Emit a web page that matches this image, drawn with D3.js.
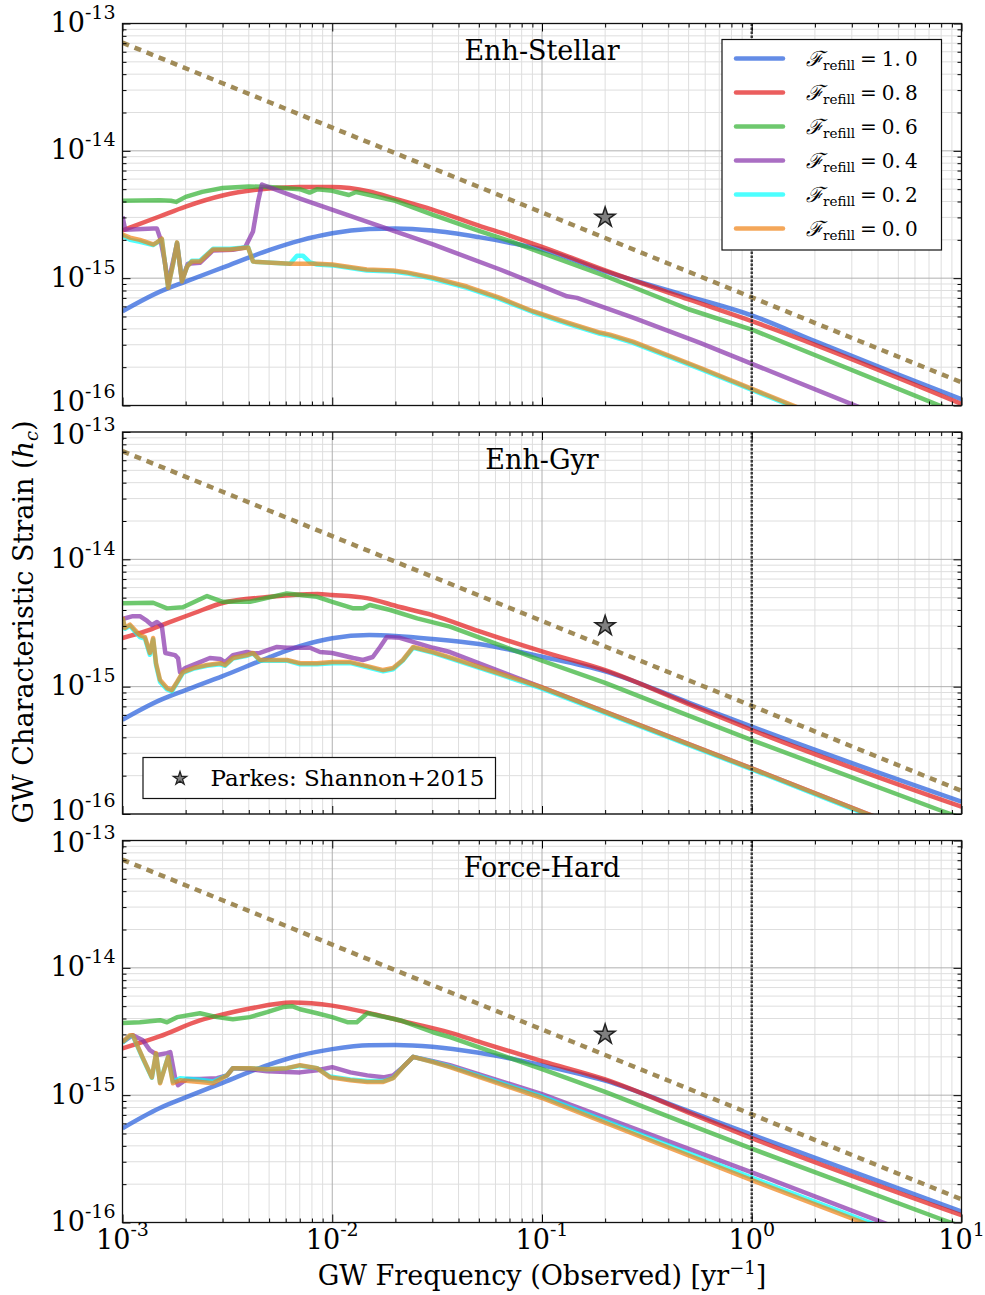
<!DOCTYPE html>
<html>
<head>
<meta charset="utf-8">
<script src="https://cdn.jsdelivr.net/npm/d3@7"></script>
<style>
  body { margin: 0; background: #fff; }
  svg text { font-family: "DejaVu Serif", serif; fill: #000; }
</style>
</head>
<body>
<div id="chart"></div>
<script>
// ---- data ----
var xTicks = [1e-3, 1e-2, 1e-1, 1, 10];
var xTickExp = ["-3", "-2", "-1", "0", "1"];
var yTicks = [1e-16, 1e-15, 1e-14, 1e-13];
var yTickExp = ["-16", "-15", "-14", "-13"];
var panelTitles = ["Enh-Stellar", "Enh-Gyr", "Force-Hard"];
var refillLabels = ["1.0", "0.8", "0.6", "0.4", "0.2", "0.0"];
var refillColors = ["rgb(34,91,219)", "rgb(226,26,26)", "rgb(48,176,48)", "rgb(134,48,169)", "rgb(0,255,255)", "rgb(240,130,20)"];

// power-law fit (dotted) and the Parkes limit
var powerLaw = [[1e-3, 7.07e-14], [1e-2, 1.52e-14], [0.1, 3.28e-15], [1, 7.07e-16], [10, 1.52e-16]];
var shannon = [[0.2, 3.0e-15]];
var shannonLabel = "Parkes: Shannon+2015";

// Enh-Stellar
var stellarBlue = [[1e-3,5.5e-16],[1.5e-3,7.8e-16],[2e-3,9.4e-16],[3e-3,1.21e-15],[5e-3,1.66e-15],[7e-3,1.97e-15],[1e-2,2.25e-15],[1.5e-2,2.43e-15],[2e-2,2.46e-15],[3e-2,2.37e-15],[5e-2,2.1e-15],[7e-2,1.9e-15],[0.1,1.68e-15],[0.2,1.13e-15],[0.5,7.2e-16],[1,5.1e-16],[2,3.2e-16],[5,1.75e-16],[10,1.12e-16]];
var stellarRed = [[1e-3,2.37e-15],[1.5e-3,3.05e-15],[2e-3,3.65e-15],[3e-3,4.46e-15],[5e-3,5.06e-15],[7e-3,5.2e-15],[1e-2,5.2e-15],[1.5e-2,4.8e-15],[2e-2,4.2e-15],[3e-2,3.46e-15],[5e-2,2.59e-15],[7e-2,2.16e-15],[0.1,1.76e-15],[0.2,1.15e-15],[0.5,6.8e-16],[1,4.6e-16],[10,1.03e-16]];
var stellarGreen = [[1e-3,4.05e-15],[1.5e-3,4.1e-15],[1.7e-3,4.05e-15],[1.8e-3,3.97e-15],[2e-3,4.35e-15],[2.4e-3,4.76e-15],[3e-3,5.1e-15],[4e-3,5.25e-15],[5e-3,5.2e-15],[7e-3,5.0e-15],[7.8e-3,4.7e-15],[8.5e-3,5.0e-15],[1e-2,4.85e-15],[1.2e-2,4.5e-15],[1.3e-2,4.75e-15],[2e-2,4.05e-15],[3e-2,3.15e-15],[5e-2,2.35e-15],[7e-2,1.96e-15],[0.1,1.58e-15],[0.2,1.04e-15],[0.5,5.7e-16],[1,3.95e-16],[10,8.5e-17]];
var stellarPurple = [[1e-3,3.05e-15],[1.03e-3,2.4e-15],[1.4e-3,2.45e-15],[1.46e-3,2.45e-15],[1.51e-3,2.08e-15],[1.59e-3,1.35e-15],[1.65e-3,9.1e-16],[1.82e-3,1.87e-15],[1.92e-3,9.7e-16],[2.05e-3,1.3e-15],[2.34e-3,1.32e-15],[2.7e-3,1.65e-15],[3.36e-3,1.67e-15],[3.84e-3,1.74e-15],[4.19e-3,2.33e-15],[4.43e-3,4.0e-15],[4.62e-3,5.44e-15],[7.02e-3,4.22e-15],[1.46e-2,2.78e-15],[3.02e-2,1.84e-15],[6.31e-2,1.17e-15],[0.1316,7.2e-16],[0.1469,7.0e-16],[0.2716,4.9e-16],[0.567,3.1e-16],[10,4.6e-17]];
var stellarCyan = [[1e-3,2.15e-15],[1.086e-3,2.0e-15],[1.21e-3,1.93e-15],[1.4e-3,1.82e-15],[1.46e-3,1.9e-15],[1.54e-3,2.02e-15],[1.59e-3,1.35e-15],[1.65e-3,8.5e-16],[1.74e-3,1.28e-15],[1.82e-3,1.9e-15],[1.92e-3,9.5e-16],[2.03e-3,1.23e-15],[2.14e-3,1.37e-15],[2.34e-3,1.37e-15],[2.7e-3,1.7e-15],[3.25e-3,1.7e-15],[3.97e-3,1.75e-15],[4.19e-3,1.35e-15],[4.89e-3,1.33e-15],[6.29e-3,1.3e-15],[6.79e-3,1.5e-15],[7.25e-3,1.5e-15],[7.83e-3,1.33e-15],[8.46e-3,1.28e-15],[1e-2,1.26e-15],[1.46e-2,1.15e-15],[1.95e-2,1.13e-15],[2.27e-2,1.09e-15],[3.02e-2,9.9e-16],[4.39e-2,8.4e-16],[6.31e-2,6.85e-16],[9.06e-2,5.4e-16],[0.1316,4.4e-16],[0.189,3.66e-16],[0.211,3.52e-16],[0.2716,3.1e-16],[0.567,1.94e-16],[10,2.85e-17]];
var stellarOrange = [[1e-3,2.2e-15],[1.086e-3,2.08e-15],[1.21e-3,2.0e-15],[1.4e-3,1.84e-15],[1.46e-3,1.91e-15],[1.54e-3,2.04e-15],[1.59e-3,1.35e-15],[1.65e-3,8.4e-16],[1.74e-3,1.28e-15],[1.82e-3,1.91e-15],[1.92e-3,9.4e-16],[2.03e-3,1.23e-15],[2.14e-3,1.35e-15],[2.34e-3,1.35e-15],[2.7e-3,1.68e-15],[3.25e-3,1.68e-15],[3.97e-3,1.74e-15],[4.19e-3,1.35e-15],[4.89e-3,1.33e-15],[6.29e-3,1.3e-15],[8.46e-3,1.3e-15],[1e-2,1.28e-15],[1.46e-2,1.17e-15],[1.95e-2,1.15e-15],[2.27e-2,1.11e-15],[3.02e-2,1.01e-15],[4.39e-2,8.6e-16],[6.31e-2,7.0e-16],[9.06e-2,5.5e-16],[0.1316,4.5e-16],[0.189,3.74e-16],[0.211,3.6e-16],[0.2716,3.17e-16],[0.567,1.98e-16],[10,2.9e-17]];

// Enh-Gyr
var gyrBlue = [[1e-3,5.5e-16],[1.5e-3,7.8e-16],[2e-3,9.4e-16],[3e-3,1.21e-15],[5e-3,1.7e-15],[7e-3,2.08e-15],[1e-2,2.4e-15],[1.5e-2,2.54e-15],[2e-2,2.5e-15],[3e-2,2.37e-15],[5e-2,2.16e-15],[0.1,1.72e-15],[0.2,1.32e-15],[0.5,7.5e-16],[1,4.85e-16],[10,1.25e-16]];
var gyrRed = [[1e-3,2.41e-15],[1.3e-3,2.74e-15],[1.63e-3,3.16e-15],[2.2e-3,3.79e-15],[3e-3,4.54e-15],[4.9e-3,5.05e-15],[8.5e-3,5.34e-15],[1e-2,5.25e-15],[1.46e-2,4.96e-15],[2.1e-2,4.22e-15],[3e-2,3.65e-15],[5e-2,2.73e-15],[0.1,1.89e-15],[0.2,1.35e-15],[0.5,7.3e-16],[1,4.57e-16],[10,1.14e-16]];
var gyrGreen = [[1e-3,4.51e-15],[1.4e-3,4.56e-15],[1.63e-3,4.12e-15],[1.94e-3,4.2e-15],[2.53e-3,5.15e-15],[3.01e-3,4.64e-15],[4.05e-3,4.64e-15],[6.08e-3,5.4e-15],[8.46e-3,5.08e-15],[1e-2,4.64e-15],[1.26e-2,4.12e-15],[1.4e-2,4.12e-15],[1.51e-2,4.38e-15],[1.89e-2,4.0e-15],[2.54e-2,3.44e-15],[3.64e-2,2.96e-15],[9.78e-2,1.62e-15],[0.2,1.07e-15],[0.5,5.93e-16],[1,3.81e-16],[7.9,1.07e-16],[10,9.3e-17]];
var gyrPurple = [[1e-3,3.4e-15],[1.12e-3,3.58e-15],[1.21e-3,3.58e-15],[1.31e-3,3.28e-15],[1.38e-3,3.05e-15],[1.46e-3,3.22e-15],[1.54e-3,3.0e-15],[1.6e-3,1.84e-15],[1.78e-3,1.77e-15],[1.84e-3,1.67e-15],[1.88e-3,1.3e-15],[1.99e-3,1.4e-15],[2.34e-3,1.56e-15],[2.61e-3,1.68e-15],[2.92e-3,1.65e-15],[3.08e-3,1.56e-15],[3.36e-3,1.77e-15],[3.92e-3,1.87e-15],[4.19e-3,1.82e-15],[4.52e-3,1.84e-15],[5.45e-3,2.05e-15],[6.08e-3,2.02e-15],[7.83e-3,2.02e-15],[8.74e-3,1.87e-15],[1e-2,1.84e-15],[1.26e-2,1.68e-15],[1.4e-2,1.62e-15],[1.56e-2,1.71e-15],[1.69e-2,2.05e-15],[1.82e-2,2.46e-15],[2.1e-2,2.42e-15],[2.54e-2,2.2e-15],[3.02e-2,2.02e-15],[3.64e-2,1.87e-15],[9.78e-2,1.0e-15],[1,2.28e-16],[3.58,1.0e-16],[10,5.3e-17]];
var gyrCyan = [[1e-3,3.45e-15],[1.028e-3,2.85e-15],[1.086e-3,3.0e-15],[1.147e-3,2.7e-15],[1.21e-3,2.45e-15],[1.28e-3,2.38e-15],[1.35e-3,1.78e-15],[1.4e-3,2.35e-15],[1.445e-3,1.48e-15],[1.51e-3,1.09e-15],[1.63e-3,9.5e-16],[1.72e-3,9.2e-16],[1.82e-3,1.07e-15],[1.94e-3,1.28e-15],[2.17e-3,1.38e-15],[2.53e-3,1.46e-15],[2.92e-3,1.5e-15],[3.08e-3,1.46e-15],[3.36e-3,1.66e-15],[3.92e-3,1.75e-15],[4.19e-3,1.82e-15],[4.52e-3,1.6e-15],[6.08e-3,1.6e-15],[7.02e-3,1.5e-15],[8.46e-3,1.5e-15],[1e-2,1.53e-15],[1.22e-2,1.53e-15],[1.47e-2,1.42e-15],[1.75e-2,1.32e-15],[1.95e-2,1.37e-15],[2.17e-2,1.6e-15],[2.43e-2,2.02e-15],[3.02e-2,1.84e-15],[3.64e-2,1.67e-15],[9.78e-2,9.8e-16],[1,2.24e-16],[3.58,9.8e-17],[10,5.2e-17]];
var gyrOrange = [[1e-3,3.52e-15],[1.028e-3,2.89e-15],[1.086e-3,3.07e-15],[1.147e-3,2.78e-15],[1.21e-3,2.54e-15],[1.28e-3,2.45e-15],[1.35e-3,1.84e-15],[1.4e-3,2.41e-15],[1.445e-3,1.53e-15],[1.51e-3,1.13e-15],[1.63e-3,9.75e-16],[1.72e-3,9.4e-16],[1.82e-3,1.09e-15],[1.94e-3,1.3e-15],[2.17e-3,1.4e-15],[2.53e-3,1.48e-15],[2.92e-3,1.53e-15],[3.08e-3,1.48e-15],[3.36e-3,1.68e-15],[3.92e-3,1.77e-15],[4.19e-3,1.84e-15],[4.52e-3,1.62e-15],[6.08e-3,1.62e-15],[7.02e-3,1.53e-15],[8.46e-3,1.53e-15],[1e-2,1.56e-15],[1.22e-2,1.56e-15],[1.47e-2,1.45e-15],[1.75e-2,1.35e-15],[1.95e-2,1.4e-15],[2.17e-2,1.62e-15],[2.43e-2,2.05e-15],[3.02e-2,1.87e-15],[3.64e-2,1.7e-15],[9.78e-2,1.0e-15],[1,2.28e-16],[3.58,1.0e-16],[10,5.3e-17]];

// Force-Hard
var hardBlue = [[1e-3,5.5e-16],[1.5e-3,7.9e-16],[2e-3,9.6e-16],[3e-3,1.25e-15],[5e-3,1.74e-15],[7e-3,2.05e-15],[1e-2,2.3e-15],[1.5e-2,2.47e-15],[2e-2,2.48e-15],[3e-2,2.4e-15],[5e-2,2.15e-15],[0.1,1.72e-15],[0.2,1.3e-15],[0.5,7.5e-16],[1,4.9e-16],[10,1.22e-16]];
var hardRed = [[1e-3,2.33e-15],[1.5e-3,2.89e-15],[2.34e-3,3.86e-15],[3e-3,4.3e-15],[4.05e-3,4.79e-15],[6.43e-3,5.34e-15],[1e-2,5.05e-15],[1.47e-2,4.45e-15],[2.1e-2,3.86e-15],[3.64e-2,3.1e-15],[5e-2,2.63e-15],[0.1,1.85e-15],[0.2,1.33e-15],[0.5,7.3e-16],[1,4.6e-16],[10,1.14e-16]];
var hardGreen = [[1e-3,3.68e-15],[1.21e-3,3.74e-15],[1.51e-3,3.88e-15],[1.63e-3,3.74e-15],[1.82e-3,4.1e-15],[2.34e-3,4.4e-15],[2.82e-3,4.1e-15],[3.36e-3,3.95e-15],[4.05e-3,4.1e-15],[4.89e-3,4.49e-15],[5.82e-3,4.92e-15],[6.43e-3,5.0e-15],[7.02e-3,4.73e-15],[8.46e-3,4.4e-15],[1e-2,4.1e-15],[1.18e-2,3.74e-15],[1.31e-2,3.74e-15],[1.47e-2,4.4e-15],[2.1e-2,3.88e-15],[3.02e-2,3.12e-15],[3.64e-2,2.86e-15],[0.1,1.6e-15],[0.2,1.06e-15],[0.5,5.9e-16],[1,3.8e-16],[7.9,1.07e-16],[10,9.3e-17]];
var hardPurple = [[1e-3,2.61e-15],[1.12e-3,2.96e-15],[1.25e-3,2.7e-15],[1.35e-3,2.26e-15],[1.46e-3,2.07e-15],[1.63e-3,2.14e-15],[1.69e-3,2.18e-15],[1.78e-3,1.38e-15],[1.84e-3,1.2e-15],[2.03e-3,1.34e-15],[2.34e-3,1.34e-15],[2.82e-3,1.36e-15],[3.15e-3,1.43e-15],[3.36e-3,1.63e-15],[4.05e-3,1.6e-15],[4.89e-3,1.54e-15],[7.02e-3,1.51e-15],[8.46e-3,1.57e-15],[1e-2,1.66e-15],[1.22e-2,1.51e-15],[1.47e-2,1.43e-15],[1.75e-2,1.38e-15],[1.95e-2,1.43e-15],[2.17e-2,1.66e-15],[2.43e-2,2.0e-15],[3.02e-2,1.85e-15],[3.64e-2,1.72e-15],[0.1,1.02e-15],[1,2.48e-16],[10,5.8e-17]];
var hardCyan = [[1e-3,2.58e-15],[1.086e-3,2.92e-15],[1.12e-3,2.92e-15],[1.25e-3,1.94e-15],[1.38e-3,1.37e-15],[1.445e-3,2.1e-15],[1.51e-3,1.26e-15],[1.65e-3,2.0e-15],[1.74e-3,1.28e-15],[1.88e-3,1.36e-15],[2.34e-3,1.32e-15],[2.7e-3,1.28e-15],[3.15e-3,1.43e-15],[3.36e-3,1.63e-15],[4.05e-3,1.63e-15],[4.89e-3,1.6e-15],[6.08e-3,1.63e-15],[7.02e-3,1.7e-15],[8.46e-3,1.63e-15],[9.76e-3,1.4e-15],[1.22e-2,1.33e-15],[1.47e-2,1.29e-15],[1.75e-2,1.29e-15],[1.95e-2,1.37e-15],[2.17e-2,1.66e-15],[2.43e-2,2.0e-15],[3.02e-2,1.83e-15],[3.64e-2,1.68e-15],[0.1,9.8e-16],[1,2.25e-16],[10,5.3e-17]];
var hardOrange = [[1e-3,2.61e-15],[1.086e-3,2.96e-15],[1.12e-3,2.96e-15],[1.25e-3,1.96e-15],[1.38e-3,1.38e-15],[1.445e-3,2.14e-15],[1.51e-3,1.24e-15],[1.65e-3,2.0e-15],[1.74e-3,1.24e-15],[1.88e-3,1.31e-15],[2.34e-3,1.27e-15],[2.7e-3,1.24e-15],[3.15e-3,1.43e-15],[3.36e-3,1.63e-15],[4.05e-3,1.63e-15],[4.89e-3,1.6e-15],[6.08e-3,1.63e-15],[7.02e-3,1.72e-15],[8.46e-3,1.63e-15],[9.76e-3,1.38e-15],[1.22e-2,1.31e-15],[1.47e-2,1.27e-15],[1.75e-2,1.27e-15],[1.95e-2,1.36e-15],[2.17e-2,1.66e-15],[2.43e-2,2.0e-15],[3.02e-2,1.82e-15],[3.64e-2,1.66e-15],[0.1,9.5e-16],[1,2.15e-16],[10,5.05e-17]];

var panelSeries = [
  [stellarBlue, stellarRed, stellarGreen, stellarPurple, stellarCyan, stellarOrange],
  [gyrBlue, gyrRed, gyrGreen, gyrPurple, gyrCyan, gyrOrange],
  [hardBlue, hardRed, hardGreen, hardPurple, hardCyan, hardOrange]
];

// ---- layout ----
var svgWidth = 985;
var svgHeight = 1295;
var marginLeft = 122.5;
var width = 839;
var panelHeight = 382;
var panelTop = [23.5, 432, 840.5];

var svg = d3.select("#chart")
  .append("svg")
  .attr("width", svgWidth)
  .attr("height", svgHeight);

svg.append("defs").append("clipPath")
  .attr("id", "plotClip")
  .append("rect")
  .attr("width", width)
  .attr("height", panelHeight);

var xScale = d3.scaleLog().domain([1e-3, 10]).range([0, width]);
var yScale = d3.scaleLog().domain([1e-16, 1e-13]).range([panelHeight, 0]);

function isDecade(t) {
  var l = Math.log10(t);
  return Math.abs(l - Math.round(l)) < 1e-6;
}
var xMinor = xScale.ticks().filter(t => !isDecade(t));
var yMinor = yScale.ticks().filter(t => !isDecade(t));

var line = d3.line()
  .x(d => xScale(d[0]))
  .y(d => yScale(d[1]))
  .curve(d3.curveMonotoneX);

var lineLinear = d3.line()
  .x(d => xScale(d[0]))
  .y(d => yScale(d[1]));

function addPow(text, exp, baseSize, expSize, rise) {
  text.append("tspan").attr("font-size", baseSize).text("10");
  text.append("tspan").attr("font-size", expSize).attr("dy", -rise).text(exp);
}

panelSeries.forEach(function(series, p) {
  var g = svg.append("g")
    .attr("transform", `translate(${marginLeft}, ${panelTop[p]})`);

  // grid
  var grid = g.append("g");
  grid.selectAll(".vminor").data(xMinor).enter().append("line")
    .attr("x1", d => xScale(d)).attr("x2", d => xScale(d))
    .attr("y1", 0).attr("y2", panelHeight)
    .attr("stroke", "#dedede").attr("stroke-width", 1);
  grid.selectAll(".hminor").data(yMinor).enter().append("line")
    .attr("y1", d => yScale(d)).attr("y2", d => yScale(d))
    .attr("x1", 0).attr("x2", width)
    .attr("stroke", "#dedede").attr("stroke-width", 1);
  grid.selectAll(".vmajor").data(xTicks).enter().append("line")
    .attr("x1", d => xScale(d)).attr("x2", d => xScale(d))
    .attr("y1", 0).attr("y2", panelHeight)
    .attr("stroke", "#b0b0b0").attr("stroke-width", 1);
  grid.selectAll(".hmajor").data(yTicks).enter().append("line")
    .attr("y1", d => yScale(d)).attr("y2", d => yScale(d))
    .attr("x1", 0).attr("x2", width)
    .attr("stroke", "#b0b0b0").attr("stroke-width", 1);

  var plot = g.append("g").attr("clip-path", "url(#plotClip)");

  // dotted power-law
  plot.append("path")
    .datum(powerLaw)
    .attr("d", lineLinear)
    .attr("fill", "none")
    .attr("stroke", "#a08b58")
    .attr("stroke-width", 4.5)
    .attr("stroke-dasharray", "7,6");

  // strain curves
  series.forEach(function(s, i) {
    plot.append("path")
      .datum(s)
      .attr("d", i < 2 ? line : lineLinear)
      .attr("fill", "none")
      .attr("stroke", refillColors[i])
      .attr("stroke-opacity", 0.7)
      .attr("stroke-width", 4.5)
      .attr("stroke-linejoin", "round");
  });

  // f = 1/yr marker
  plot.append("line")
    .attr("x1", xScale(1)).attr("x2", xScale(1))
    .attr("y1", 0).attr("y2", panelHeight)
    .attr("stroke", "#222")
    .attr("stroke-opacity", 0.85)
    .attr("stroke-width", 2.5)
    .attr("stroke-dasharray", "2.5,1.5");

  // Parkes limit
  plot.selectAll(".star").data(shannon).enter().append("path")
    .attr("d", d3.symbol().type(d3.symbolStar).size(125))
    .attr("transform", d => `translate(${xScale(d[0])}, ${yScale(d[1])})`)
    .attr("fill", "#808080")
    .attr("stroke", "#222")
    .attr("stroke-width", 1.5);

  // ticks, pointing inward on all four sides
  var axes = [
    {axis: d3.axisBottom, t: `translate(0, ${panelHeight})`, vals: xTicks, minor: xMinor, sc: xScale},
    {axis: d3.axisTop, t: "translate(0, 0)", vals: xTicks, minor: xMinor, sc: xScale},
    {axis: d3.axisLeft, t: "translate(0, 0)", vals: yTicks, minor: yMinor, sc: yScale},
    {axis: d3.axisRight, t: `translate(${width}, 0)`, vals: yTicks, minor: yMinor, sc: yScale}
  ];
  axes.forEach(function(a) {
    g.append("g").attr("transform", a.t)
      .call(a.axis(a.sc).tickValues(a.vals).tickSize(-8).tickSizeOuter(0).tickFormat(""))
      .call(s => s.select(".domain").remove());
    g.append("g").attr("transform", a.t)
      .call(a.axis(a.sc).tickValues(a.minor).tickSize(-4).tickSizeOuter(0).tickFormat(""))
      .call(s => s.select(".domain").remove());
  });

  g.append("rect")
    .attr("width", width)
    .attr("height", panelHeight)
    .attr("fill", "none")
    .attr("stroke", "#111")
    .attr("stroke-width", 1.3);

  // y tick labels (nudged apart where two panels meet)
  yTicks.forEach(function(v, i) {
    var nudge = 0;
    if (i === 0 && p < 2) nudge = -3;
    if (i === 3 && p > 0) nudge = 3;
    var t = g.append("text")
      .attr("x", -7)
      .attr("y", yScale(v) + 8.5 + nudge)
      .attr("text-anchor", "end");
    addPow(t, yTickExp[i], "27px", "19px", 13);
  });

  // title
  g.append("text")
    .attr("x", width / 2)
    .attr("y", 36.5)
    .attr("text-anchor", "middle")
    .attr("font-size", "27px")
    .text(panelTitles[p]);

  // x tick labels on the bottom panel
  if (p === 2) {
    xTicks.forEach(function(v, i) {
      var t = g.append("text")
        .attr("x", xScale(v))
        .attr("y", panelHeight + 26)
        .attr("text-anchor", "middle");
      addPow(t, xTickExp[i], "27px", "19px", 13);
    });
  }

  // legend: refill fractions
  if (p === 0) {
    var leg = g.append("g").attr("transform", `translate(${722 - marginLeft}, ${39.5 - panelTop[0]})`);
    leg.append("rect")
      .attr("width", 219.5).attr("height", 210.5)
      .attr("fill", "#fff").attr("stroke", "#111").attr("stroke-width", 1.2);
    refillLabels.forEach(function(lab, i) {
      var yy = 19 + i * 34;
      leg.append("line")
        .attr("x1", 14).attr("x2", 61)
        .attr("y1", yy).attr("y2", yy)
        .attr("stroke", refillColors[i])
        .attr("stroke-opacity", 0.7)
        .attr("stroke-width", 4.5)
        .attr("stroke-linecap", "round");
      var t = leg.append("text").attr("x", 84).attr("y", yy + 7.5);
      t.append("tspan").attr("font-size", "21px").attr("font-style", "italic").text("\u2131");
      t.append("tspan").attr("font-size", "13.5px").attr("dy", 4).text("refill");
      t.append("tspan").attr("font-size", "20px").attr("dy", -4).attr("dx", 5).text("=");
      t.append("tspan").attr("font-size", "20px").attr("dx", 5).text(lab.replace(".", ".\u2009"));
    });
  }

  // legend: Parkes limit
  if (p === 1) {
    var leg2 = g.append("g").attr("transform", `translate(${143 - marginLeft}, ${757.5 - panelTop[1]})`);
    leg2.append("rect")
      .attr("width", 352.5).attr("height", 41)
      .attr("fill", "#fff").attr("stroke", "#111").attr("stroke-width", 1.2);
    leg2.append("path")
      .attr("d", d3.symbol().type(d3.symbolStar).size(55))
      .attr("transform", "translate(37, 21)")
      .attr("fill", "#808080")
      .attr("stroke", "#222")
      .attr("stroke-width", 1.3);
    leg2.append("text")
      .attr("x", 67.5)
      .attr("y", 28)
      .attr("font-size", "23px")
      .text(shannonLabel);
  }
});

// axis titles
var xLab = svg.append("text")
  .attr("x", marginLeft + width / 2)
  .attr("y", 1285)
  .attr("text-anchor", "middle")
  .attr("font-size", "27px");
xLab.append("tspan").text("GW Frequency (Observed) [yr");
xLab.append("tspan").attr("font-size", "18px").attr("dy", -11).text("\u22121");
xLab.append("tspan").attr("dy", 11).text("]");

var yLab = svg.append("text")
  .attr("transform", "translate(33, 622) rotate(-90)")
  .attr("text-anchor", "middle")
  .attr("font-size", "27px");
yLab.append("tspan").text("GW Characteristic Strain (");
yLab.append("tspan").attr("font-style", "italic").text("h");
yLab.append("tspan").attr("font-style", "italic").attr("font-size", "18px").attr("dy", 5).text("c");
yLab.append("tspan").attr("dy", -5).text(")");
</script>
</body>
</html>
